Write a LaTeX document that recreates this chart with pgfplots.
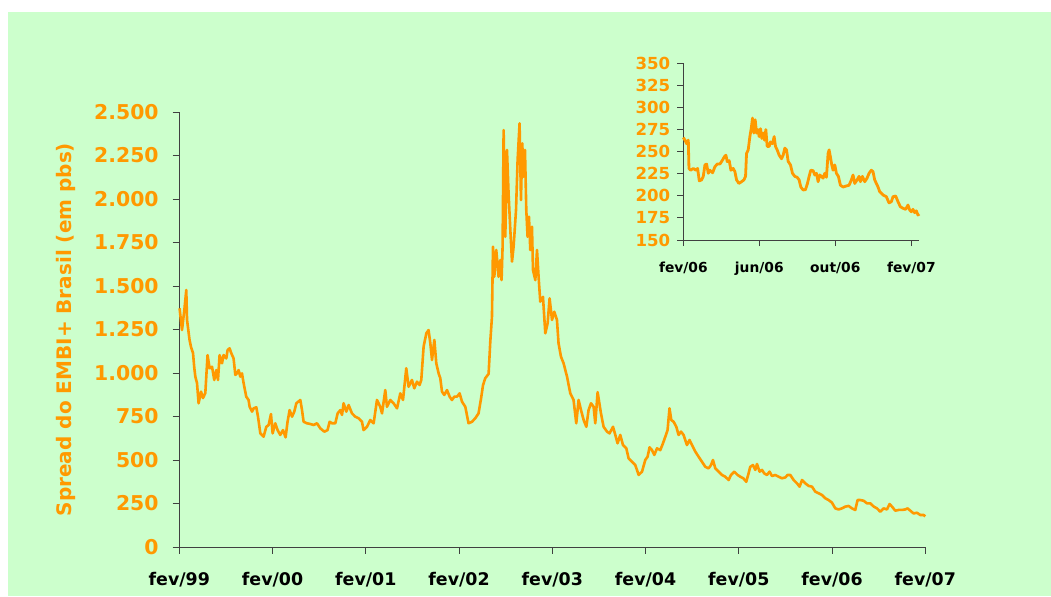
\documentclass[border=0pt]{standalone}
\usepackage{pgfplots}
\pgfplotsset{compat=1.18}
\usepackage{fontspec}
\setmainfont{DejaVu Sans}
\definecolor{bggreen}{HTML}{CCFFCC}
\definecolor{lineorange}{HTML}{FF9900}
\definecolor{axgray}{HTML}{404040}
\begin{document}
\begin{tikzpicture}
\useasboundingbox (0,0) rectangle (525.5pt,-298pt);
\fill[white] (0,0) rectangle (525.5pt,-298pt);
\fill[bggreen] (4pt,-6pt) rectangle (525.5pt,-298pt);
% main axis
\begin{axis}[
  at={(89.65pt,-273.5pt)}, anchor=south west,
  scale only axis, width=373pt, height=217.5pt,
  xmin=0, xmax=8, ymin=0, ymax=2500,
  axis x line*=bottom, axis y line*=left,
  axis line style={axgray, line width=0.5pt},
  tick style={axgray, line width=0.5pt},
  tick align=outside, major tick length=3.3pt,
  xtick={0,1,2,3,4,5,6,7,8},
  xticklabels={fev/99,fev/00,fev/01,fev/02,fev/03,fev/04,fev/05,fev/06,fev/07},
  ytick={0,250,500,750,1000,1250,1500,1750,2000,2250,2500},
  scaled y ticks=false,
  /pgf/number format/.cd, 1000 sep={.}, assume math mode=true, /pgfplots/.cd,
  yticklabel style={text=lineorange, font=\bfseries\fontsize{10.2}{12}\selectfont, xshift=-3.5pt},
  xticklabel style={text=black, font=\bfseries\fontsize{8.7}{10}\selectfont, yshift=-6pt},
  ylabel={Spread do EMBI+ Brasil (em pbs)},
  ylabel style={at={(axis description cs:-0.1515,0.5)}, anchor=center, text=lineorange, font=\bfseries\fontsize{10}{12}\selectfont},
  clip=false,
]
\addplot[lineorange, line width=1.3pt, line join=round] coordinates {
(0.003,1372)(0.029,1247)(0.054,1362)(0.075,1477)(0.083,1305)(0.110,1190)(0.125,1151)(0.147,1115)
(0.161,1029)(0.172,979)(0.190,942)(0.207,826)(0.233,893)(0.254,856)(0.279,885)(0.303,1103)
(0.325,1027)(0.351,1036)(0.375,960)(0.397,1017)(0.415,960)(0.432,1103)(0.458,1056)(0.475,1103)
(0.504,1084)(0.518,1132)(0.539,1142)(0.558,1113)(0.582,1084)(0.601,989)(0.619,998)(0.636,1017)
(0.654,979)(0.672,998)(0.690,941)(0.718,864)(0.743,845)(0.754,806)(0.780,778)(0.797,797)
(0.826,803)(0.844,749)(0.869,653)(0.904,634)(0.933,691)(0.958,701)(0.983,764)(1.001,653)
(1.029,711)(1.054,672)(1.083,644)(1.112,672)(1.140,630)(1.161,720)(1.183,787)(1.209,749)
(1.233,778)(1.255,826)(1.298,845)(1.316,787)(1.333,720)(1.369,711)(1.405,707)(1.440,701)
(1.477,711)(1.512,682)(1.555,663)(1.590,672)(1.612,720)(1.638,711)(1.673,711)(1.698,768)
(1.727,787)(1.745,759)(1.762,826)(1.791,778)(1.816,816)(1.852,768)(1.887,749)(1.923,740)
(1.959,720)(1.976,672)(2.013,691)(2.048,730)(2.084,711)(2.120,845)(2.155,806)(2.174,768)
(2.209,902)(2.227,806)(2.263,845)(2.298,826)(2.335,797)(2.370,883)(2.399,845)(2.434,1027)
(2.459,921)(2.495,960)(2.520,912)(2.549,950)(2.577,931)(2.595,960)(2.620,1151)(2.649,1228)
(2.673,1247)(2.692,1171)(2.710,1075)(2.735,1190)(2.756,1056)(2.781,998)(2.799,970)(2.817,893)
(2.842,874)(2.871,902)(2.899,864)(2.924,845)(2.949,864)(2.978,864)(3.006,883)(3.032,835)
(3.067,806)(3.102,711)(3.139,720)(3.174,740)(3.209,768)(3.235,850)(3.257,930)(3.281,970)
(3.317,995)(3.335,1180)(3.353,1324)(3.364,1726)(3.378,1553)(3.399,1707)(3.424,1553)(3.442,1649)
(3.456,1534)(3.467,1726)(3.478,2396)(3.496,1783)(3.514,2282)(3.531,2033)(3.550,1822)(3.568,1640)
(3.585,1726)(3.611,1937)(3.628,2224)(3.649,2435)(3.664,1994)(3.678,2320)(3.692,2128)(3.707,2282)
(3.721,1937)(3.735,1783)(3.750,1898)(3.764,1707)(3.782,1841)(3.793,1592)(3.818,1534)(3.836,1707)
(3.853,1553)(3.871,1410)(3.900,1438)(3.925,1228)(3.950,1286)(3.971,1429)(3.997,1305)(4.021,1352)
(4.050,1305)(4.067,1171)(4.093,1094)(4.121,1056)(4.158,979)(4.193,883)(4.228,845)(4.257,711)
(4.282,845)(4.308,787)(4.336,730)(4.365,691)(4.389,787)(4.415,826)(4.443,806)(4.461,711)
(4.486,890)(4.522,768)(4.550,691)(4.587,663)(4.614,653)(4.651,691)(4.676,644)(4.700,596)
(4.729,644)(4.758,586)(4.794,567)(4.818,510)(4.855,490)(4.890,471)(4.926,414)(4.962,433)
(4.997,500)(5.022,519)(5.043,573)(5.069,557)(5.094,529)(5.123,567)(5.158,557)(5.187,596)
(5.212,634)(5.236,672)(5.257,797)(5.276,730)(5.301,720)(5.330,691)(5.354,644)(5.380,663)
(5.408,644)(5.444,586)(5.472,615)(5.498,586)(5.534,548)(5.569,519)(5.605,490)(5.641,461)
(5.676,452)(5.702,471)(5.723,500)(5.748,452)(5.784,433)(5.820,414)(5.855,404)(5.891,385)
(5.916,414)(5.952,433)(5.987,414)(6.016,404)(6.048,395)(6.080,375)(6.105,423)(6.123,461)
(6.152,471)(6.177,443)(6.195,477)(6.223,433)(6.249,443)(6.273,423)(6.302,414)(6.330,433)
(6.356,408)(6.391,414)(6.427,404)(6.463,395)(6.499,400)(6.523,414)(6.552,414)(6.588,385)
(6.624,366)(6.652,347)(6.678,385)(6.713,366)(6.749,351)(6.785,347)(6.820,318)(6.856,309)
(6.892,299)(6.928,280)(6.963,270)(6.999,255)(7.035,222)(7.070,216)(7.106,222)(7.142,232)
(7.177,236)(7.214,222)(7.249,213)(7.274,270)(7.303,270)(7.338,266)(7.375,251)(7.410,251)
(7.448,232)(7.482,222)(7.517,203)(7.553,222)(7.589,216)(7.617,247)(7.643,232)(7.678,209)
(7.714,213)(7.750,213)(7.786,216)(7.810,222)(7.839,209)(7.874,193)(7.911,197)(7.946,184)
(7.982,184)(8.000,176)
};
\end{axis}
% inset axis
\begin{axis}[
  at={(341.65pt,-120pt)}, anchor=south west,
  scale only axis, width=118pt, height=88.35pt,
  xmin=0, xmax=12.42, ymin=150, ymax=350,
  axis x line*=bottom, axis y line*=left,
  axis line style={axgray, line width=0.5pt},
  tick style={axgray, line width=0.5pt},
  tick align=outside, major tick length=3pt,
  xtick={0,4,8,12},
  xticklabels={fev/06,jun/06,out/06,fev/07},
  ytick={150,175,200,225,250,275,300,325,350},
  /pgf/number format/.cd, assume math mode=true, /pgfplots/.cd,
  yticklabel style={text=lineorange, font=\bfseries\fontsize{8.3}{10}\selectfont},
  xticklabel style={text=black, font=\bfseries\fontsize{6.9}{8}\selectfont, yshift=-4.5pt},
  clip=false,
]
\addplot[lineorange, line width=1.4pt, line join=round] coordinates {
(0,266)(0.088,263)(0.175,259)(0.263,263)(0.298,231)(0.385,229)(0.526,231)(0.666,229)
(0.753,231)(0.841,217)(0.963,218)(1.051,222)(1.139,235)(1.226,236)(1.314,225.5)(1.401,229)
(1.542,226)(1.664,233)(1.787,236)(1.927,236)(2.067,240.6)(2.155,244)(2.242,246)(2.312,238.7)
(2.418,239.8)(2.505,229)(2.628,231)(2.715,227.4)(2.803,218)(2.926,214)(3.066,216)(3.188,218)
(3.276,222)(3.328,248)(3.416,252)(3.504,267)(3.574,276)(3.644,288)(3.714,271)(3.784,286)
(3.854,271)(3.924,275)(3.994,267)(4.064,276)(4.134,265)(4.204,271)(4.274,263)(4.344,275)
(4.414,256)(4.520,256)(4.590,261)(4.695,259)(4.782,267)(4.852,256)(4.940,252)(5.045,246)
(5.168,242)(5.255,246)(5.343,254)(5.431,252)(5.518,239)(5.641,235)(5.746,225.5)(5.869,222)
(5.991,221)(6.096,218)(6.184,210)(6.307,206.6)(6.429,207)(6.534,214)(6.622,222)(6.709,229)
(6.832,228.5)(6.919,223.6)(7.007,225.5)(7.095,216)(7.182,223.6)(7.270,222)(7.357,220)(7.445,225.5)
(7.533,221)(7.620,248)(7.673,252)(7.743,244)(7.813,235)(7.883,229)(7.971,235)(8.058,225.5)
(8.163,222)(8.268,212)(8.409,210)(8.549,211)(8.724,212)(8.847,218)(8.934,223.6)(9.022,214)
(9.144,218)(9.249,222)(9.320,216)(9.425,222)(9.547,216)(9.670,220)(9.775,225.5)(9.898,229)
(9.985,227.4)(10.073,218)(10.161,214)(10.248,210)(10.336,204.7)(10.511,201)(10.686,199)(10.826,192)
(10.949,193.4)(11.036,199)(11.176,199.8)(11.299,193.4)(11.422,187.7)(11.562,185.9)(11.702,184.7)(11.825,189.6)
(11.912,184)(12.000,182)(12.087,184.7)(12.175,181)(12.263,183)(12.350,178.3)(12.420,179.4)
};
\end{axis}
\end{tikzpicture}
\end{document}
